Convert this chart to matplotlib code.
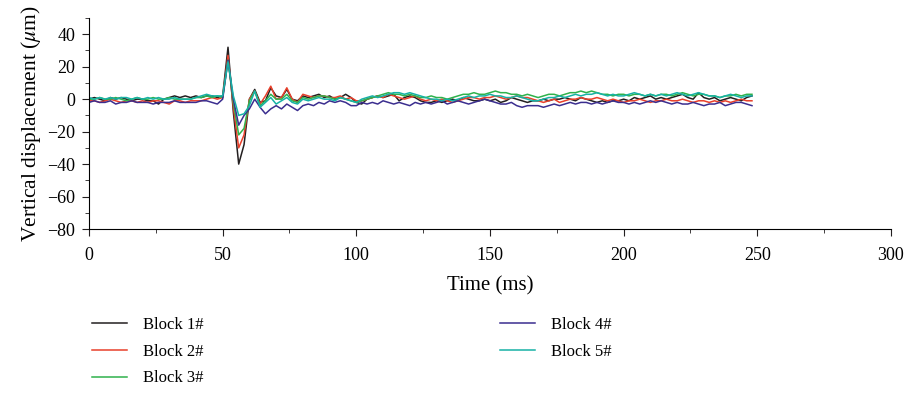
import numpy as np
import matplotlib
matplotlib.use('Agg')
import matplotlib.pyplot as plt
from matplotlib.ticker import MultipleLocator

plt.rcParams['font.family'] = ['Liberation Serif', 'DejaVu Serif']
plt.rcParams['mathtext.fontset'] = 'stix'

########## data (time step 2 ms) ##########
time_ms = list(range(0, 250, 2))

block1 = [0, 1, 0, -1, 1, 0, 1, 0, -1, 0, 0, -1, -1, -3, 0, 1, 2, 1, 2, 1, 2, 1, 2, 2, 1,
          2, 32, -8, -40, -28, 0, 6, -2, -1, 7, 2, 1, 6, 0, -1, 2, 1, 2, 3, 1, 2, 0, 1, 3, 1,
          -2, -3, 0, 1, 2, 1, 2, 3, -1, 1, 2, 1, -1, -2, -2, -1, -2, -1, 0, -1, 1, 0, -1, -1, 0,
          -1, 0, -2, -1, 1, 0, -1, -2, -1, -1, 0, -1, 0, 0, 1, 0, -1, 1, 0, -1, -2, -1, -2, -1, -1,
          0, -1, 1, 0, 1, 2, 0, 1, 0, 1, 2, 3, 1, 0, 4, 1, 0, 1, -1, 0, 1, 0, -1, 1, 2]
block2 = [-1, -1, -2, -1, 0, -1, -2, -1, -1, -2, -1, -2, -1, -1, -2, -3, -1, -1, -2, -1, -1, -1, 0, 1, 0,
          1, 27, -5, -30, -22, 0, 5, -3, 2, 8, 0, 1, 7, 0, -2, 3, 2, 1, 2, 2, 1, 1, 2, 0, 1,
          -1, -1, 0, 1, 2, 1, 3, 2, 1, 0, 1, 2, 0, -1, 0, -1, 0, -1, -2, -1, 0, 1, 1, 0, 1,
          1, 2, 1, 0, 1, 2, 1, 1, 0, -1, -2, -1, 0, -2, -1, 0, 0, 1, 0, 0, 1, 0, -1, 0, -1,
          -2, -1, -1, 0, -1, -2, -1, -1, 0, -1, -1, 0, -1, -2, -1, -1, -2, -1, -2, -1, -2, -1, 0, -1, -1]
block3 = [0, 0, 1, 0, 0, 1, 0, -1, 0, 1, 0, 0, 1, 0, 0, 1, 0, 0, 0, 0, 1, 1, 2, 1, 2,
          1, 24, -2, -22, -18, -1, 5, -4, -1, 3, 0, 0, 3, -1, -2, 1, 0, 1, 2, 2, 1, 0, 1, 0, -1,
          -2, -1, 0, 1, 2, 3, 4, 3, 3, 2, 3, 2, 1, 1, 2, 1, 1, 0, 1, 2, 3, 3, 4, 3, 3,
          4, 5, 4, 4, 3, 3, 2, 3, 2, 1, 2, 3, 3, 2, 3, 4, 4, 5, 4, 5, 4, 3, 3, 2, 3,
          3, 2, 3, 3, 2, 3, 2, 3, 3, 2, 3, 4, 3, 2, 3, 3, 2, 2, 1, 2, 2, 3, 2, 3, 3]
block4 = [-2, -1, -2, -2, -1, -3, -2, -2, -1, -2, -2, -2, -3, -2, -2, -2, -1, -2, -2, -2, -2, -1, -1, -2, -3,
          0, 24, 0, -16, -10, -6, 0, -5, -9, -6, -4, -6, -3, -5, -7, -4, -3, -4, -2, -3, -1, -2, -1, -2, -4,
          -4, -2, -3, -2, -3, -1, -2, -3, -2, -3, -4, -2, -3, -2, -3, -2, -1, -3, -2, -1, -2, -3, -2, -1, 0,
          -1, -2, -3, -3, -2, -4, -5, -4, -4, -4, -5, -4, -3, -4, -3, -2, -3, -2, -2, -3, -2, -3, -2, -1, -2,
          -2, -3, -2, -3, -2, -1, -2, -1, -2, -3, -2, -3, -3, -2, -3, -4, -3, -3, -2, -4, -3, -2, -2, -3, -4]
block5 = [1, 0, 1, 0, 1, 0, 1, 1, 0, 1, 0, 1, 0, 1, 0, 0, 1, 0, 0, 0, 1, 2, 3, 2, 2,
          2, 23, 2, -10, -9, -4, 5, -5, -2, 1, -3, -1, 1, -2, -3, 0, -1, 0, 1, 0, 0, -1, 1, 0, -1,
          -2, 0, 1, 2, 1, 2, 3, 4, 4, 3, 4, 3, 2, 1, 0, 0, -1, 0, -1, 0, 1, 2, 1, 2, 2,
          3, 2, 2, 1, 1, 2, 1, 0, -1, -1, 0, 1, 1, 2, 1, 2, 3, 2, 3, 3, 4, 3, 2, 3, 2,
          2, 3, 4, 3, 2, 3, 2, 3, 2, 3, 4, 3, 2, 3, 4, 3, 2, 2, 1, 2, 3, 2, 1, 2, 2]

labels = ['Block 1#', 'Block 2#', 'Block 3#', 'Block 4#', 'Block 5#']
colors = ['#231f20', '#e8402b', '#2fb24c', '#3b2e8f', '#17b2a6']

########## plot ##########
fig = plt.figure(figsize=(9.1, 3.96), dpi=100)
ax = fig.add_axes([0.0978, 0.4217, 0.8813, 0.5328])

for y, lab, c in zip([block1, block2, block3, block4, block5], labels, colors):
    ax.plot(time_ms, y, color=c, lw=1.1, label=lab)

ax.set_xlim(0, 300)
ax.set_ylim(-80, 50)
ax.xaxis.set_major_locator(MultipleLocator(50))
ax.xaxis.set_minor_locator(MultipleLocator(25))
ax.yaxis.set_major_locator(MultipleLocator(20))
ax.yaxis.set_minor_locator(MultipleLocator(10))
ax.set_yticks(np.arange(-80, 41, 20))
ax.spines['top'].set_visible(False)
ax.spines['right'].set_visible(False)
ax.tick_params(which='major', length=5, labelsize=13, color='#231f20', pad=5)
ax.tick_params(axis='x', which='major', pad=8)
ax.tick_params(which='minor', length=3, color='#231f20')
ax.set_xlabel('Time (ms)', fontsize=15, labelpad=9)
ax.set_ylabel(r'Vertical displacement ($\mu$m)', fontsize=15.5, labelpad=3)

ax.legend(loc='upper left', bbox_to_anchor=(0.085, 0.238), bbox_transform=fig.transFigure,
          ncol=2, frameon=False, fontsize=12, handlelength=2.1, handletextpad=0.95,
          columnspacing=17.8, labelspacing=0.65)

plt.savefig('out.png', dpi=100)
